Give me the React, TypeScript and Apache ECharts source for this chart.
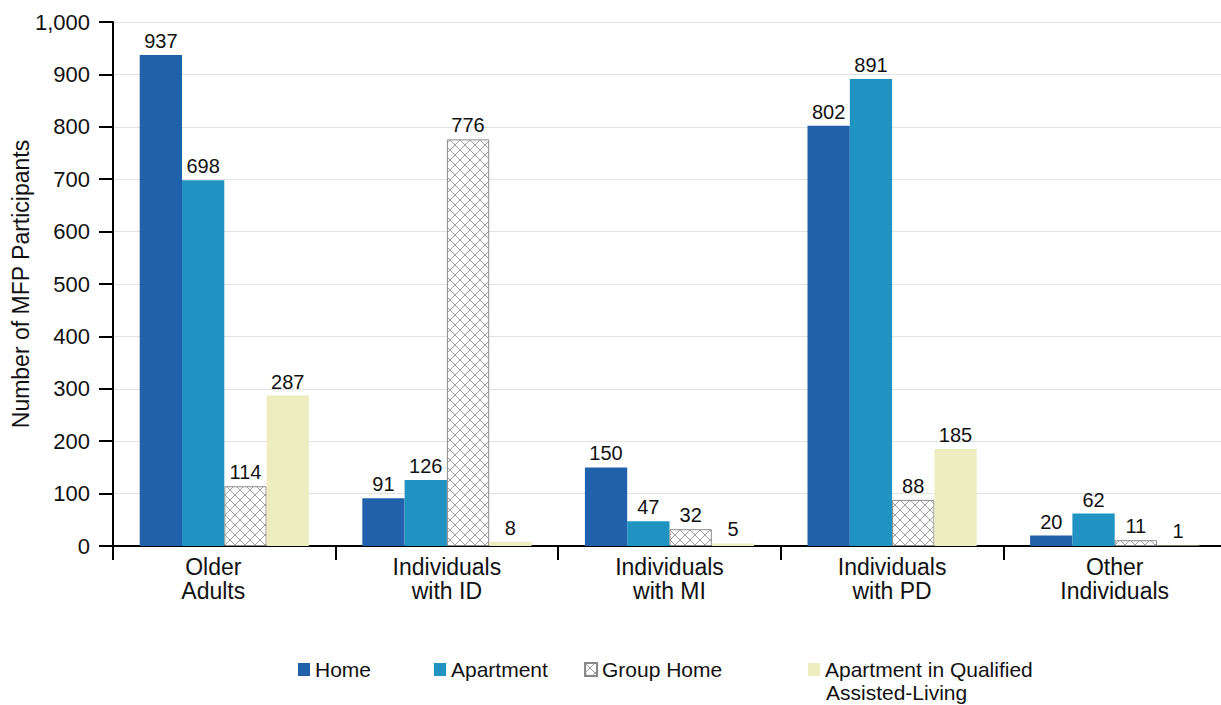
import React, { useEffect, useRef } from "react";
import * as echarts from "echarts";

const categories = [
  "Older\nAdults",
  "Individuals\nwith ID",
  "Individuals\nwith MI",
  "Individuals\nwith PD",
  "Other\nIndividuals",
];
const homeValues = [937, 91, 150, 802, 20];
const apartmentValues = [698, 126, 47, 891, 62];
const groupHomeValues = [114, 776, 32, 88, 11];
const assistedValues = [287, 8, 5, 185, 1];
const seriesNames = [
  "Home",
  "Apartment",
  "Group Home",
  "Apartment in Qualified Assisted-Living",
];
const legendLabels = ["Home", "Apartment", "Group Home", "Apartment in Qualified"];
const legendSecondLine = "Assisted-Living";
const yTicks = [0, 100, 200, 300, 400, 500, 600, 700, 800, 900, 1000];

const FONT = "'Liberation Sans', Arial, Helvetica, sans-serif";

function makeHatch(): HTMLCanvasElement {
  const c = document.createElement("canvas");
  c.width = 10;
  c.height = 10;
  const ctx = c.getContext("2d")!;
  ctx.fillStyle = "#ffffff";
  ctx.fillRect(0, 0, 10, 10);
  ctx.strokeStyle = "#a0a0a0";
  ctx.lineWidth = 1;
  ctx.beginPath();
  ctx.moveTo(0, 0);
  ctx.lineTo(10, 10);
  ctx.moveTo(10, 0);
  ctx.lineTo(0, 10);
  ctx.stroke();
  return c;
}

export default function App() {
  const ref = useRef<HTMLDivElement>(null);
  useEffect(() => {
    if (!ref.current) return;
    const chart = echarts.init(ref.current, undefined, { renderer: "svg" });
    const hatch = makeHatch();
    const label = {
      show: true,
      position: "top" as const,
      distance: 4,
      fontSize: 20,
      color: "#111",
      fontFamily: FONT,
    };
    const legendBase = {
      top: 654,
      itemWidth: 12,
      itemHeight: 13,
      icon: "rect",
      textStyle: { fontSize: 21, color: "#111", fontFamily: FONT },
    };
    const legendLefts = [293, 429, 579, 803];
    const xLabelStyle = { fontSize: 23, lineHeight: 24, color: "#111", fontFamily: FONT };
    chart.setOption({
      animation: false,
      textStyle: { fontFamily: FONT },
      grid: {
        left: 113,
        right: -5,
        top: 22,
        bottom: 159,
        containLabel: false,
        outerBoundsMode: "none",
      },
      legend: seriesNames.map((name, i) => ({
        ...legendBase,
        left: legendLefts[i],
        data: [name],
        formatter: () => legendLabels[i],
      })),
      graphic: [
        {
          type: "text",
          left: 826,
          top: 682,
          style: {
            text: legendSecondLine,
            fontSize: 21,
            fill: "#111",
            fontFamily: FONT,
          },
        },
      ],
      xAxis: {
        type: "category",
        data: categories,
        axisLine: { lineStyle: { color: "#000", width: 2 } },
        axisTick: { show: true, length: 14, lineStyle: { color: "#000", width: 2 } },
        axisLabel: {
          ...xLabelStyle,
          margin: 9,
          formatter: (value: string, index: number) => {
            const tag = index === 0 ? "s" : "n";
            return value
              .split("\n")
              .map((line) => `{${tag}|${line}}`)
              .join("\n");
          },
          rich: {
            s: { ...xLabelStyle, padding: [0, 22, 0, 0] },
            n: { ...xLabelStyle },
          },
        },
      },
      yAxis: {
        type: "value",
        min: 0,
        max: 1000,
        interval: 100,
        name: "Number of MFP Participants",
        nameLocation: "middle",
        nameGap: 81,
        nameMoveOverlap: false,
        nameTextStyle: { fontSize: 23, color: "#111", fontFamily: FONT },
        axisLine: { show: true, lineStyle: { color: "#000", width: 2 } },
        axisTick: { show: true, length: 14, lineStyle: { color: "#000", width: 2 } },
        axisLabel: {
          fontSize: 22,
          color: "#111",
          margin: 23,
          fontFamily: FONT,
          formatter: (v: number) =>
            yTicks.includes(v) ? v.toLocaleString("en-US") : "",
        },
        splitLine: { show: true, lineStyle: { color: "#e2e2e2", width: 1 } },
      },
      series: [
        {
          name: seriesNames[0],
          type: "bar",
          data: homeValues,
          barGap: "0%",
          barCategoryGap: "24%",
          itemStyle: { color: "#2160ab" },
          label,
        },
        {
          name: seriesNames[1],
          type: "bar",
          data: apartmentValues,
          barGap: "0%",
          barCategoryGap: "24%",
          itemStyle: { color: "#2193c2" },
          label,
        },
        {
          name: seriesNames[2],
          type: "bar",
          data: groupHomeValues,
          barGap: "0%",
          barCategoryGap: "24%",
          itemStyle: {
            color: { image: hatch, repeat: "repeat" },
            borderColor: "#8a8a8a",
            borderWidth: 1,
          },
          label,
        },
        {
          name: seriesNames[3],
          type: "bar",
          data: assistedValues,
          barGap: "0%",
          barCategoryGap: "24%",
          itemStyle: { color: "#ededbf" },
          label,
        },
      ],
    });
    return () => chart.dispose();
  }, []);
  return (
    <div
      ref={ref}
      style={{ position: "fixed", left: 0, top: 0, width: 1221, height: 705, background: "#fff" }}
    />
  );
}
